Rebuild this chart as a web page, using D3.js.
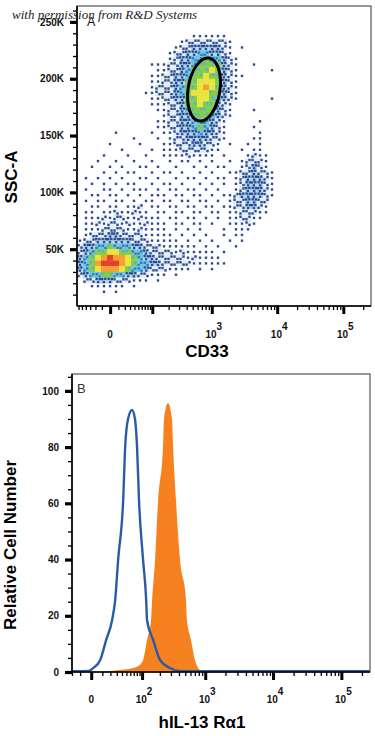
<!DOCTYPE html>
<html>
<head>
<meta charset="utf-8">
<script src="https://cdn.jsdelivr.net/npm/d3@7"></script>
<style>
  body { margin: 0; background: #fff; }
  svg { display: block; }
  text { font-family: "Liberation Sans", Arial, sans-serif; }
</style>
</head>
<body>
<svg id="chart" width="375" height="736"></svg>
<script>
// ---- panel A: CD33 vs SSC-A pseudocolor density ----
// rows run from SSC 265K (top) down in 5K steps, columns are equal slices of the CD33 display axis
// '.' = no events, 1..8 = increasing density
var densityRows = [
  "....... ....... ....... ....... ....... ....... .......",
  "....... ....... ....... ....... ....... ....... .......",
  "....... ....... ....... ....... ....... ....... .......",
  "....... ....... ....... ....... ....... ....... .......",
  "....... ....... ....... ....... ....... ....... .......",
  "....... ....... .....11 1111... ....... ....... .......",
  "....... ....... ...1222 22221.. ....... ....... .......",
  "....... ....... ..12233 33321.1 ....... ....... .......",
  "....... ....... .122334 43321.. ....... ....... .......",
  "....... ....... .123344 544321. ....... ....... .......",
  "....... .....11 1223345 555321. .1..... ....... .......",
  "....... ......1 1223455 565321. ....1.. ....... .......",
  "....... .....11 2233455 6553211 ....... ....... .......",
  "....... .....11 2233556 665321. ....... ....... .......",
  "....... .....12 2234556 765321. ....... ....... .......",
  "....... ....112 2234566 655321. ....... ....... .......",
  "....... .....11 2233556 654321. ....1.. ....... .......",
  "....... .....11 1223556 55321.. ....... ....... .......",
  "....... ......1 1223455 55321.. .1..... ....... .......",
  "....... ....... 1223355 54321.. ....... ....... .......",
  "....... ......1 1223344 4321... ..1.... ....... .......",
  "....... ......1 1223345 4321... .1..... ....... .......",
  "......1 .....1. 1123334 3321... ..1.... ....... .......",
  "....... ..1...1 .122333 3221... .11.... ....... .......",
  ".....1. ...1... 1122233 221.1.. 1.1.... ....... .......",
  "....... 1....1. 1112222 211...1 .11.... ....... .......",
  "....1.. .1..1.. 1111211 11.1... 1211... ....... .......",
  "...1..1 ..1..1. .1.11.1 .1..1.1 2221... ....... .......",
  "..1..1. 1..11.1 ..1..1. 1.11..1 2321... ....... .......",
  "....1.1 .11..1. 11.1..1 .1..112 23221.. ....... .......",
  ".1.1.1. 1..11.1 ..1.11. 1.11.12 33321.. ....... .......",
  "..1.1.1 .11..1. 11.1..1 .1.1.12 33321.. ....... .......",
  ".1..11. 1.111.1 .11.11. 1.1..12 33321.. ....... .......",
  "..11.11 .1.1.11 1.11.11 .1.1123 33321.. ....... .......",
  ".1.11.1 1.1.11. 11.11.1 1.1.122 3322... ....... .......",
  "..11.11 .112.11 .11.11. 11.1122 3321... ....... .......",
  ".11.112 11211.1 1.11.11 .11.112 2211... ....... .......",
  ".111212 2112111 .11.11. 1.1.112 211.... ....... .......",
  ".112122 1211211 1.11.11 .1..111 21..... ....... .......",
  ".111222 2112111 1.1.1.1 ...1.11 1...... ....... .......",
  ".122233 2222111 11.1.1. 1..1.11 ....... ....... .......",
  "1223333 3322211 111.1.1 .1..1.1 ....... ....... .......",
  "2334454 4433222 111111. 1.1..1. ....... ....... .......",
  "2345566 5544322 2212111 11.1... ....... ....... .......",
  "3456787 7654332 2222121 111.... ....... ....... .......",
  "3457888 7654433 2222211 1111... ....... ....... .......",
  "3456777 6544322 21111.1 .1..... ....... ....... .......",
  "2344554 4332211 1.1.... ....... ....... ....... .......",
  ".223332 22111.1 ....... ....... ....... ....... .......",
  "..11111 1.1.... ....... ....... ....... ....... .......",
  "....1.1 ....... ....... ....... ....... ....... .......",
  "....... ....... ....... ....... ....... ....... .......",
  "....... ....... ....... ....... ....... ....... ......."
];
var sscTop = 265000, sscBin = 5000;

// gate extremes: top, bottom, left, right (CD33, SSC-A)
var gateCD33 = [906, 631, 406, 1344];
var gateSSC = [218200, 162800, 188300, 192700];

var sscMajor = [50000, 100000, 150000, 200000, 250000];
var sscLabels = ["50K", "100K", "150K", "200K", "250K"];
var cd33Labels = [[0, "0", ""], [1e3, "10", "3"], [1e4, "10", "4"], [1e5, "10", "5"]];

// ---- panel B: histogram of hIL-13 Ra1 ----
var isotypeIntensity = [-20, -2, 1.5, 7.8, 14.4, 22.5, 27.3, 32.5, 42.5, 47, 54, 65, 74, 81, 88, 104, 118, 122, 155, 201, 290, 390, 1000, 262144];
var isotypeCount     = [0.3, 0.4, 1.4, 4.3, 11.4, 18.5, 25.6, 40, 61, 80, 90, 93.2, 90, 80, 61, 40, 25.6, 18.5, 11.4, 4.3, 1.4, 0.4, 0.3, 0.3];
var stainedIntensity = [7.8, 36, 68, 85, 104, 122, 143, 149, 167, 187, 225, 233, 270, 312, 324, 360, 415, 513, 531, 611, 702, 834, 990];
var stainedCount     = [0, 0.7, 1.4, 2.1, 4.3, 11.4, 18.5, 25.6, 40, 61, 80.4, 90, 95.7, 90, 80.4, 61, 40, 25.6, 18.5, 11.4, 4.3, 0.7, 0];

var countMajor = [0, 20, 40, 60, 80, 100];
var intensityLabels = [[0, "0", ""], [1e2, "10", "2"], [1e3, "10", "3"], [1e4, "10", "4"], [1e5, "10", "5"]];

// pseudocolor look: background per level plus dark event specks for the sparse levels
var levelBg = [null, null, "#e3eef7", "#b2daee", "#6ec6e4", "#86ca50", "#e9e43e", "#f4a132", "#e3432b"];
var levelSpecks = {
  1: [[0.5, 0.5]],
  2: [[0.25, 0.3], [0.75, 0.72]],
  3: [[0.2, 0.25], [0.72, 0.22], [0.48, 0.78]],
  4: [[0.3, 0.4], [0.75, 0.8]],
  5: [[0.7, 0.3]]
};
var speckColor = ["", "#2f4a8e", "#2f4a8e", "#2c4a90", "#3a78b8", "#4fb8c8"];

var svg = d3.select("#chart");

var xTop = d3.scaleSymlog().constant(30).domain([-65, 262144]).range([77, 371]);
var yTop = d3.scaleLinear().domain([0, 264000]).range([306, 6]);
var xBot = d3.scaleSymlog().constant(22).domain([-20, 262144]).range([72, 370]);
var yBot = d3.scaleLinear().domain([0, 106]).range([672, 374]);

function logTicks(domainMin) {
  var minor = [], major = [0, 1e2, 1e3, 1e4, 1e5];
  [10, 100, 1000, 10000, 100000].forEach(function (dec) {
    for (var m = (dec == 10 ? 1 : 2); m < 10; m++) {
      if (m * dec <= 262144) minor.push(m * dec);
      if (-m * dec >= domainMin) minor.push(-m * dec);
    }
  });
  return { minor: minor, major: major };
}

function tickAxis(g, axis, width) {
  g.call(axis);
  g.select(".domain").remove();
  g.selectAll(".tick line").attr("stroke", "#000").attr("stroke-width", width);
}

function drawFrame(x, y) {
  svg.append("rect")
    .attr("x", x.range()[0]).attr("y", y.range()[1])
    .attr("width", x.range()[1] - x.range()[0])
    .attr("height", y.range()[0] - y.range()[1])
    .attr("fill", "none").attr("stroke", "#555").attr("stroke-width", 1.2);
}

function drawXAxis(x, y, labels, domainMin, labelY) {
  var t = logTicks(domainMin);
  var base = y.range()[0];
  tickAxis(svg.append("g").attr("transform", "translate(0," + base + ")"),
    d3.axisBottom(x).tickValues(t.minor).tickSize(4).tickFormat(""), 1.3);
  tickAxis(svg.append("g").attr("transform", "translate(0," + base + ")"),
    d3.axisBottom(x).tickValues(t.major).tickSize(8).tickFormat(""), 3);
  svg.append("line")
    .attr("x1", x.range()[0]).attr("x2", x.range()[1])
    .attr("y1", base).attr("y2", base)
    .attr("stroke", "#000").attr("stroke-width", 1.6);

  var lab = svg.append("g").selectAll("text").data(labels).enter().append("text")
    .attr("x", function (d) { return x(d[0]) + (d[2] ? 2 : 0); })
    .attr("y", labelY)
    .attr("text-anchor", "middle")
    .attr("font-size", 10).attr("font-weight", "bold").attr("fill", "#111")
    .text(function (d) { return d[1]; });
  lab.append("tspan").attr("dy", -8).text(function (d) { return d[2]; });
}

function drawYAxis(x, y, major, minor, labels) {
  var left = x.range()[0];
  tickAxis(svg.append("g").attr("transform", "translate(" + left + ",0)"),
    d3.axisLeft(y).tickValues(minor).tickSize(4).tickFormat(""), 1.3);
  var g = svg.append("g").attr("transform", "translate(" + left + ",0)");
  tickAxis(g, d3.axisLeft(y).tickValues(major).tickSize(7).tickPadding(6)
    .tickFormat(function (d, i) { return labels[i]; }), 3.2);
  g.selectAll(".tick text")
    .attr("font-size", 10).attr("font-weight", "bold").attr("fill", "#111");
  svg.append("line")
    .attr("x1", left).attr("x2", left)
    .attr("y1", y.range()[0]).attr("y2", y.range()[1])
    .attr("stroke", "#000").attr("stroke-width", 1.6);
}

// ---------- panel A ----------
svg.append("clipPath").attr("id", "clipA").append("rect")
  .attr("x", 77).attr("y", 6).attr("width", 294).attr("height", 300);

var rows = densityRows.map(function (r) { return r.replace(/ /g, ""); });
var nCols = rows[0].length;
var xr = xTop.range();
var colEdges = d3.range(nCols + 1).map(function (i) {
  return xTop.invert(xr[0] + i * (xr[1] - xr[0]) / nCols);
});

var cells = [];
rows.forEach(function (row, r) {
  for (var j = 0; j < nCols; j++) {
    var lv = row.charAt(j);
    if (lv != ".") cells.push({
      r: r, j: j,
      lo: colEdges[j], hi: colEdges[j + 1],
      sLo: sscTop - (r + 1) * sscBin, sHi: sscTop - r * sscBin,
      level: +lv
    });
  }
});

var dens = svg.append("g").attr("clip-path", "url(#clipA)");
var cellG = dens.selectAll("g").data(cells).enter().append("g");

cellG.filter(function (d) { return levelBg[d.level]; })
  .append("rect")
  .attr("x", function (d) { return xTop(d.lo); })
  .attr("y", function (d) { return yTop(d.sHi); })
  .attr("width", function (d) { return xTop(d.hi) - xTop(d.lo) + 0.3; })
  .attr("height", function (d) { return yTop(d.sLo) - yTop(d.sHi) + 0.3; })
  .attr("fill", function (d) { return levelBg[d.level]; });

cellG.each(function (d) {
  var pts = levelSpecks[d.level];
  if (!pts) return;
  var x0 = xTop(d.lo), x1 = xTop(d.hi), y0 = yTop(d.sHi), y1 = yTop(d.sLo);
  var flip = (d.r + d.j) % 2;
  d3.select(this).selectAll("rect.speck").data(pts).enter().append("rect")
    .attr("class", "speck")
    .attr("x", function (p) { return x0 + (flip ? 1 - p[0] : p[0]) * (x1 - x0) - 1.2; })
    .attr("y", function (p) { return y0 + p[1] * (y1 - y0) - 1.2; })
    .attr("width", 2.4).attr("height", 2.4)
    .attr("fill", speckColor[d.level]);
});

// elliptical gate
var gp = gateCD33.map(function (v, i) { return [xTop(v), yTop(gateSSC[i])]; });
var gcx = (gp[0][0] + gp[1][0]) / 2, gcy = (gp[0][1] + gp[1][1]) / 2;
var gdx = gp[0][0] - gp[1][0], gdy = gp[1][1] - gp[0][1];
var gry = Math.sqrt(gdx * gdx + gdy * gdy) / 2;
var gang = Math.atan2(gdx, gdy);
var grx = Math.abs((gp[3][0] - gp[2][0]) * Math.cos(gang) + (gp[3][1] - gp[2][1]) * Math.sin(gang)) / 2;
svg.append("ellipse")
  .attr("cx", gcx).attr("cy", gcy).attr("rx", grx).attr("ry", gry)
  .attr("transform", "rotate(" + (gang * 180 / Math.PI) + "," + gcx + "," + gcy + ")")
  .attr("fill", "none").attr("stroke", "#000").attr("stroke-width", 3);

drawFrame(xTop, yTop);
drawYAxis(xTop, yTop, sscMajor, d3.range(10000, 261000, 10000), sscLabels);
drawXAxis(xTop, yTop, cd33Labels, -65, 338);

svg.append("text").attr("x", 87).attr("y", 26)
  .attr("font-size", 12.5).attr("fill", "#111").text("A");

svg.append("text").attr("transform", "translate(17,177) rotate(-90)")
  .attr("text-anchor", "middle").attr("font-size", 17).attr("font-weight", "bold")
  .text("SSC-A");
svg.append("text").attr("x", 207).attr("y", 357)
  .attr("text-anchor", "middle").attr("font-size", 17).attr("font-weight", "bold")
  .text("CD33");

// ---------- panel B ----------
svg.append("clipPath").attr("id", "clipB").append("rect")
  .attr("x", 72).attr("y", 374).attr("width", 299).attr("height", 300);

var stained = stainedIntensity.map(function (v, i) { return [v, stainedCount[i]]; });
var isotype = isotypeIntensity.map(function (v, i) { return [v, isotypeCount[i]]; });

var plotB = svg.append("g").attr("clip-path", "url(#clipB)");
drawFrame(xBot, yBot);
drawYAxis(xBot, yBot, countMajor, d3.range(5, 106, 5).filter(function (v) { return v % 20; }),
  countMajor.map(String));
drawXAxis(xBot, yBot, intensityLabels, -20, 703);

plotB.append("path").datum(stained)
  .attr("fill", "#f5821f")
  .attr("d", d3.area().curve(d3.curveMonotoneX)
    .x(function (d) { return xBot(d[0]); })
    .y0(yBot(0)).y1(function (d) { return yBot(d[1]); }));

plotB.append("path").datum(isotype)
  .attr("fill", "none").attr("stroke", "#2c5ba6").attr("stroke-width", 2.4)
  .attr("stroke-linejoin", "round")
  .attr("d", d3.line().curve(d3.curveMonotoneX)
    .x(function (d) { return xBot(d[0]); })
    .y(function (d) { return yBot(d[1]); }));

svg.append("text").attr("x", 77).attr("y", 393)
  .attr("font-size", 13).attr("fill", "#333").text("B");

svg.append("text").attr("transform", "translate(16,545) rotate(-90)")
  .attr("text-anchor", "middle").attr("font-size", 17).attr("font-weight", "bold")
  .text("Relative Cell Number");
svg.append("text").attr("x", 202).attr("y", 728)
  .attr("text-anchor", "middle").attr("font-size", 17).attr("font-weight", "bold")
  .text("hIL-13 Rα1");

// watermark
svg.append("text").attr("x", 12).attr("y", 19)
  .style("font-family", '"Liberation Serif", "DejaVu Serif", serif')
  .style("font-style", "italic").attr("font-size", 13).attr("fill", "#222")
  .text("with permission from R&D Systems");
</script>
</body>
</html>
